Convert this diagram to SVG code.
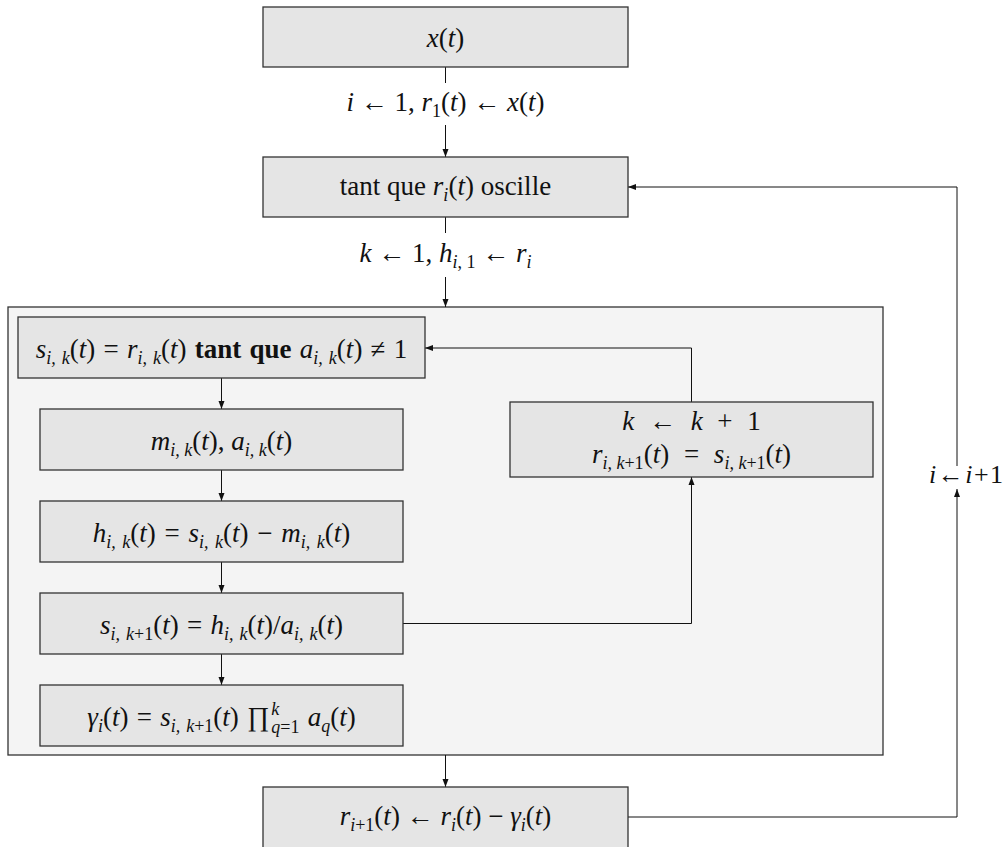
<svg xmlns="http://www.w3.org/2000/svg" width="1006" height="847" viewBox="0 0 1006 847" font-family="'Liberation Serif', 'Times New Roman', 'DejaVu Serif', serif">
<style>
.box{fill:#e5e5e5;stroke:#333;stroke-width:1.3}
.outer{fill:#f4f4f4;stroke:#333;stroke-width:1.3}
text{font-family:'Liberation Serif','Times New Roman','DejaVu Serif',serif;font-size:27px;fill:#111}
.m{font-style:italic}
.sb{font-size:18px}
.b{font-weight:bold}
text.lbl{font-size:26px;word-spacing:-5px}
.edge{stroke:#111;stroke-width:1;fill:none}
</style>
<defs>
<marker id="ah" markerWidth="8" markerHeight="8" refX="8" refY="4" orient="auto" markerUnits="userSpaceOnUse">
<path d="M0,1 L8,4 L0,7 z" fill="#111"/>
</marker>
</defs>
<rect width="1006" height="847" fill="#fff"/>
<g id="outer"><rect class="outer" x="8" y="307" width="875" height="448"/></g>
<g id="connectors">
<path class="edge" d="M445.5,67 V83"/>
<path class="edge" d="M445.5,125 V157" marker-end="url(#ah)"/>
<path class="edge" d="M445.5,217 V233"/>
<path class="edge" d="M445.5,277 V307" marker-end="url(#ah)"/>
<path class="edge" d="M221.5,378 V409" marker-end="url(#ah)"/>
<path class="edge" d="M221.5,470 V501" marker-end="url(#ah)"/>
<path class="edge" d="M221.5,562 V593" marker-end="url(#ah)"/>
<path class="edge" d="M221.5,654 V685" marker-end="url(#ah)"/>
<path class="edge" d="M403,623.5 H691.5 V477" marker-end="url(#ah)"/>
<path class="edge" d="M691.5,402 V348 H425" marker-end="url(#ah)"/>
<path class="edge" d="M445.5,755 V787" marker-end="url(#ah)"/>
<path class="edge" d="M628,817 H957 V489" marker-end="url(#ah)"/>
<path class="edge" d="M957,466 V187 H628" marker-end="url(#ah)"/>
</g>
<g id="n-x">
<rect class="box" x="263" y="7" width="365" height="60"/>
<text x="445.5" y="47" text-anchor="middle"><tspan class="m">x</tspan>(<tspan class="m">t</tspan>)</text>
</g>
<g id="lbl-init">
<text x="445.5" y="111" text-anchor="middle"><tspan class="m">i</tspan> ← 1, <tspan class="m">r</tspan><tspan class="sb" dy="6">1</tspan><tspan dy="-6">(</tspan><tspan class="m">t</tspan>) ← <tspan class="m">x</tspan>(<tspan class="m">t</tspan>)</text>
</g>
<g id="n-while">
<rect class="box" x="263" y="157" width="365" height="60"/>
<text x="445.5" y="195" text-anchor="middle">tant que <tspan class="m">r</tspan><tspan class="sb m" dy="6">i</tspan><tspan dy="-6">(</tspan><tspan class="m">t</tspan>) oscille</text>
</g>
<g id="lbl-k">
<text x="445.5" y="262" text-anchor="middle"><tspan class="m">k</tspan> ← 1, <tspan class="m">h</tspan><tspan class="sb" dy="6"><tspan class="m">i</tspan>, 1</tspan><tspan dy="-6"> ← </tspan><tspan class="m">r</tspan><tspan class="sb m" dy="6">i</tspan></text>
</g>
<g id="n-s">
<rect class="box" x="18" y="317" width="407" height="61"/>
<text x="221.5" y="358" text-anchor="middle" word-spacing="1.5"><tspan class="m">s</tspan><tspan class="sb m" dy="6">i, k</tspan><tspan dy="-6">(</tspan><tspan class="m">t</tspan>) = <tspan class="m">r</tspan><tspan class="sb m" dy="6">i, k</tspan><tspan dy="-6">(</tspan><tspan class="m">t</tspan>) <tspan class="b">tant que</tspan> <tspan class="m">a</tspan><tspan class="sb m" dy="6">i, k</tspan><tspan dy="-6">(</tspan><tspan class="m">t</tspan>) ≠ 1</text>
</g>
<g id="n-m">
<rect class="box" x="40" y="409" width="363" height="61"/>
<text x="221.5" y="450" text-anchor="middle"><tspan class="m">m</tspan><tspan class="sb m" dy="6">i, k</tspan><tspan dy="-6">(</tspan><tspan class="m">t</tspan>), <tspan class="m">a</tspan><tspan class="sb m" dy="6">i, k</tspan><tspan dy="-6">(</tspan><tspan class="m">t</tspan>)</text>
</g>
<g id="n-h">
<rect class="box" x="40" y="501" width="363" height="61"/>
<text x="221.5" y="542" text-anchor="middle" word-spacing="2"><tspan class="m">h</tspan><tspan class="sb m" dy="6">i, k</tspan><tspan dy="-6">(</tspan><tspan class="m">t</tspan>) = <tspan class="m">s</tspan><tspan class="sb m" dy="6">i, k</tspan><tspan dy="-6">(</tspan><tspan class="m">t</tspan>) − <tspan class="m">m</tspan><tspan class="sb m" dy="6">i, k</tspan><tspan dy="-6">(</tspan><tspan class="m">t</tspan>)</text>
</g>
<g id="n-s2">
<rect class="box" x="40" y="593" width="363" height="61"/>
<text x="221.5" y="634" text-anchor="middle" word-spacing="1.5"><tspan class="m">s</tspan><tspan class="sb" dy="6"><tspan class="m">i, k</tspan>+1</tspan><tspan dy="-6">(</tspan><tspan class="m">t</tspan>) = <tspan class="m">h</tspan><tspan class="sb m" dy="6">i, k</tspan><tspan dy="-6">(</tspan><tspan class="m">t</tspan>)/<tspan class="m">a</tspan><tspan class="sb m" dy="6">i, k</tspan><tspan dy="-6">(</tspan><tspan class="m">t</tspan>)</text>
</g>
<g id="n-gamma">
<rect class="box" x="40" y="685" width="363" height="61"/>
<text x="221.5" y="726" text-anchor="middle" word-spacing="1.5"><tspan class="m">γ</tspan><tspan class="sb m" dy="6">i</tspan><tspan dy="-6">(</tspan><tspan class="m">t</tspan>) = <tspan class="m">s</tspan><tspan class="sb" dy="6"><tspan class="m">i, k</tspan>+1</tspan><tspan dy="-6">(</tspan><tspan class="m">t</tspan>) ∏<tspan class="sb m" dx="2" dy="-11">k</tspan><tspan class="sb" dx="-8" dy="18"><tspan class="m">q</tspan>=1</tspan><tspan dy="-7"> </tspan><tspan class="m">a</tspan><tspan class="sb m" dy="6">q</tspan><tspan dy="-6">(</tspan><tspan class="m">t</tspan>)</text>
</g>
<g id="n-inc">
<rect class="box" x="510" y="402" width="363" height="75"/>
<text x="691.5" y="430" text-anchor="middle" word-spacing="8"><tspan class="m">k</tspan> ← <tspan class="m">k</tspan> + 1</text>
<text x="691.5" y="463" text-anchor="middle" word-spacing="8"><tspan class="m">r</tspan><tspan class="sb" dy="6" word-spacing="0"><tspan class="m">i, k</tspan>+1</tspan><tspan dy="-6">(</tspan><tspan class="m">t</tspan>) = <tspan class="m">s</tspan><tspan class="sb" dy="6" word-spacing="0"><tspan class="m">i, k</tspan>+1</tspan><tspan dy="-6">(</tspan><tspan class="m">t</tspan>)</text>
</g>
<g id="n-r">
<rect class="box" x="263" y="787" width="365" height="64"/>
<text x="445.5" y="825" text-anchor="middle"><tspan class="m">r</tspan><tspan class="sb" dy="6"><tspan class="m">i</tspan>+1</tspan><tspan dy="-6">(</tspan><tspan class="m">t</tspan>) ← <tspan class="m">r</tspan><tspan class="sb m" dy="6">i</tspan><tspan dy="-6">(</tspan><tspan class="m">t</tspan>) − <tspan class="m">γ</tspan><tspan class="sb m" dy="6">i</tspan><tspan dy="-6">(</tspan><tspan class="m">t</tspan>)</text>
</g>
<g id="lbl-i">
<text class="lbl" x="966" y="483" text-anchor="middle"><tspan class="m">i</tspan> ← <tspan class="m">i</tspan> + 1</text>
</g>
</svg>
